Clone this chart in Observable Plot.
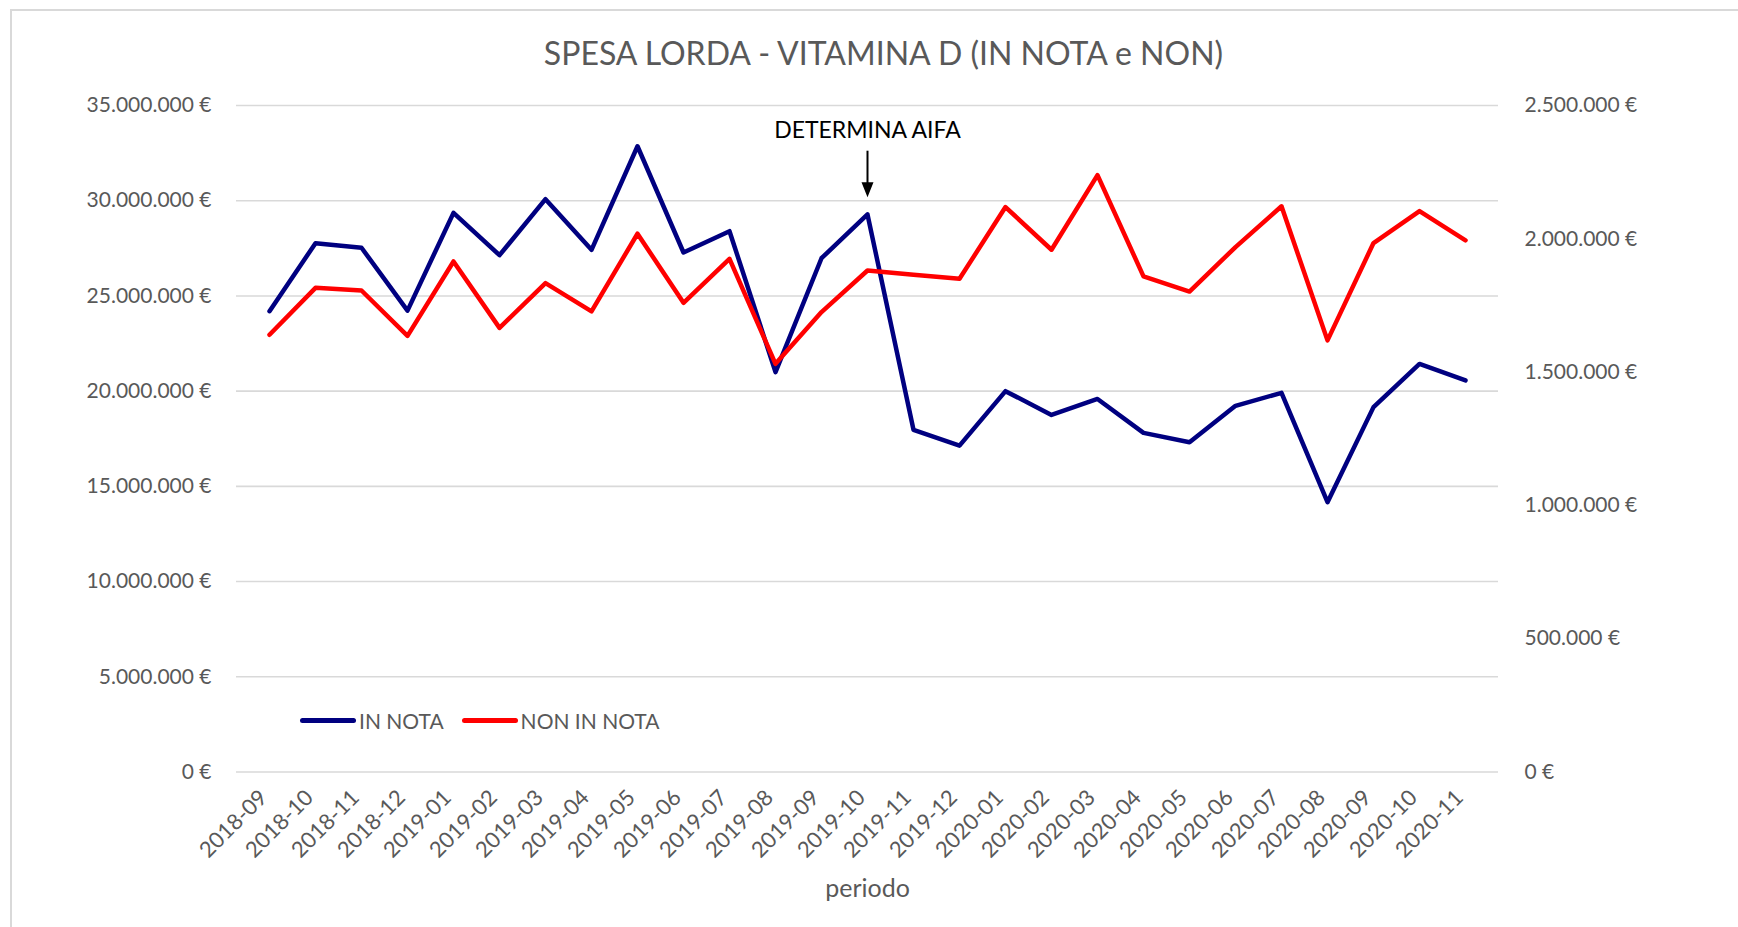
<!DOCTYPE html>
<html>
<head>
<meta charset="utf-8">
<script src="https://cdn.jsdelivr.net/npm/d3@7"></script>
<script src="https://cdn.jsdelivr.net/npm/@observablehq/plot@0.6"></script>
<style>
  html, body { margin: 0; padding: 0; background: #fff; }
  #wrap { position: relative; width: 1738px; height: 927px; overflow: hidden; font-family: Lato, sans-serif; background: #fff; }
  #border { position: absolute; left: 10px; top: 9px; width: 1760px; height: 960px; border: 2px solid #d9d9d9; box-sizing: border-box; pointer-events: none; }
  #chart { position: absolute; left: 0; top: 0; }
  #legend { position: absolute; left: 300px; top: 708px; display: flex; align-items: center; font-family: Lato, sans-serif; font-size: 21px; color: #595959; white-space: nowrap; }
  .item { display: flex; align-items: center; margin-right: 18px; }
  .sw { width: 56px; height: 5px; border-radius: 3px; margin-right: 3px; }
</style>
</head>
<body>
<div id="wrap">
  <div id="chart"></div>
  <div id="border"></div>
  <div id="legend"></div>
</div>
<script>
// ---- data ----
const periods = [
  "2018-09","2018-10","2018-11","2018-12",
  "2019-01","2019-02","2019-03","2019-04","2019-05","2019-06",
  "2019-07","2019-08","2019-09","2019-10","2019-11","2019-12",
  "2020-01","2020-02","2020-03","2020-04","2020-05","2020-06",
  "2020-07","2020-08","2020-09","2020-10","2020-11"
];
// IN NOTA (left axis, €)
const inNota = [
  24200000, 27770000, 27530000, 24230000,
  29360000, 27140000, 30080000, 27420000, 32860000, 27280000,
  28400000, 21000000, 26980000, 29280000, 17970000, 17140000,
  20000000, 18750000, 19590000, 17810000, 17320000, 19230000,
  19910000, 14170000, 19160000, 21430000, 20560000
];
// NON IN NOTA (right axis, €)
const nonInNota = [
  1640000, 1816000, 1806000, 1636000,
  1915000, 1666000, 1834000, 1728000, 2019000, 1760000,
  1925000, 1531000, 1725000, 1881000, 1865000, 1850000,
  2119000, 1959000, 2239000, 1859000, 1802000, 1969000,
  2122000, 1619000, 1984000, 2104000, 1994000
];
const leftTicks = [0, 5000000, 10000000, 15000000, 20000000, 25000000, 30000000, 35000000];
const rightTicks = [0, 500000, 1000000, 1500000, 2000000, 2500000];
const seriesNames = ["IN NOTA", "NON IN NOTA"];
const seriesColors = ["#000080", "#ff0000"];
const titleText = "SPESA LORDA - VITAMINA D (IN NOTA e NON)";
const xTitle = "periodo";
const annotation = [{ period: "2019-10", label: "DETERMINA AIFA", arrowFrom: 32600000, arrowTo: 30900000, arrowTip: 30180000 }];

// ---- derived ----
const ratio = leftTicks[leftTicks.length - 1] / rightTicks[rightTicks.length - 1];
const rowsIn = periods.map((p, i) => ({ period: p, value: inNota[i] }));
const rowsNon = periods.map((p, i) => ({ period: p, value: nonInNota[i] * ratio }));
const fmt = v => d3.format(",")(Math.round(v)).replace(/,/g, ".") + " €";

const arrowHead = {
  draw(ctx) {
    ctx.moveTo(0, 0);
    ctx.lineTo(-6, -15);
    ctx.lineTo(6, -15);
    ctx.closePath();
  }
};

const chart = Plot.plot({
  width: 1738,
  height: 927,
  marginLeft: 236,
  marginRight: 240,
  marginTop: 105,
  marginBottom: 155.5,
  style: { fontFamily: "Lato, sans-serif", fontSize: "21px", color: "#595959", background: "transparent", overflow: "visible" },
  x: { type: "point", domain: periods, padding: 0.5 },
  y: { domain: [0, leftTicks[leftTicks.length - 1]] },
  marks: [
    Plot.ruleY(leftTicks, { stroke: "#d9d9d9", strokeWidth: 1.6 }),
    Plot.axisY({ ticks: leftTicks, tickFormat: fmt, tickSize: 0, tickPadding: 25, label: null, fontSize: 21 }),
    Plot.axisY({ anchor: "right", ticks: rightTicks.map(v => v * ratio), tickFormat: v => fmt(v / ratio), tickSize: 0, tickPadding: 26, label: null, fontSize: 21 }),
    Plot.axisX({ tickRotate: -45, tickSize: 0, tickPadding: 22, dx: -6, label: null, fontSize: 22 }),
    Plot.text([xTitle], { text: d => d, frameAnchor: "bottom", dy: 125, fontSize: 25, fill: "#595959" }),
    Plot.text([titleText], { text: d => d, frameAnchor: "top", dx: 16, dy: -63, fontSize: 32, fill: "#595959" }),
    Plot.line(rowsIn, { x: "period", y: "value", stroke: seriesColors[0], strokeWidth: 4.5 }),
    Plot.line(rowsNon, { x: "period", y: "value", stroke: seriesColors[1], strokeWidth: 4.5 }),
    Plot.text(annotation, { x: "period", text: "label", frameAnchor: "top", dy: 16, fontSize: 23, fill: "#000" }),
    Plot.ruleX(annotation, { x: "period", y1: "arrowFrom", y2: "arrowTo", stroke: "#000", strokeWidth: 2 }),
    Plot.dot(annotation, { x: "period", y: "arrowTip", symbol: arrowHead, fill: "#000", stroke: "none" })
  ]
});
document.getElementById("chart").appendChild(chart);

const legend = document.getElementById("legend");
seriesNames.forEach((name, i) => {
  const item = document.createElement("div");
  item.className = "item";
  const sw = document.createElement("div");
  sw.className = "sw";
  sw.style.background = seriesColors[i];
  const label = document.createElement("span");
  label.textContent = name;
  item.appendChild(sw);
  item.appendChild(label);
  legend.appendChild(item);
});
</script>
</body>
</html>
